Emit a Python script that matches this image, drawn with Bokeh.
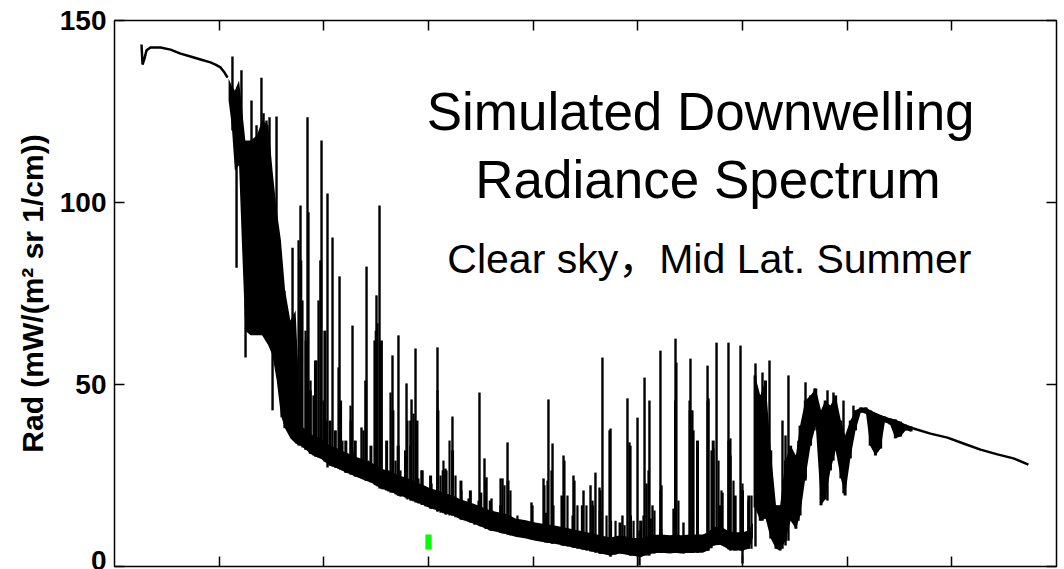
from bokeh.plotting import figure
from bokeh.models import Range1d, LinearAxis, FixedTicker, Label
from bokeh.embed import file_html
from bokeh.resources import INLINE

# Axis ticks
x_ticks = [600, 700, 800, 900, 1000, 1100, 1200, 1300]
y_ticks = [0, 50, 100, 150]

# Saturated band edge: smooth line (wavenumber, radiance)
flat_wn = [525.8, 526.8, 528.7, 530.6, 534.4, 543.9, 553.5, 563.1, 572.6, 582.2,
           591.7, 596.5, 601.3, 605.1, 608.0]
flat_rad = [143.4, 137.9, 139.6, 141.8, 142.6, 142.6, 142.0, 140.9, 140.1, 139.3,
            138.5, 137.9, 137.1, 135.7, 134.3]

# Dense line region: lower / upper envelope of the unresolved continuum
band_wn = [609, 612, 615, 619, 622, 625, 630, 636, 641, 647,
           651, 655, 659, 663, 668, 673, 678, 683, 687, 692,
           697, 701, 706, 711, 716, 721, 726, 730, 735, 740,
           745, 750, 755, 760, 766, 771, 778, 783, 789, 794,
           802, 809, 814, 823, 831, 840, 850, 859, 869, 876,
           883, 893, 902, 912, 919, 929, 938, 947, 957, 964,
           974, 983, 993, 1003, 1012, 1022, 1031, 1036, 1041, 1050,
           1057, 1062, 1067, 1072, 1079, 1087, 1093, 1100, 1106, 1110]
band_hi = [134.1, 132.1, 130.8, 133.5, 125.3, 117.0, 117.0, 118.4, 122.5, 121.2,
           108.8, 97.8, 89.6, 75.8, 67.6, 70.3, 38.7, 37.6, 36.5, 35.7,
           35.2, 34.3, 33.2, 32.7, 32.1, 31.3, 30.8, 30.2, 29.7, 29.1,
           28.6, 27.8, 26.9, 26.4, 25.8, 25.0, 24.5, 23.9, 23.1, 22.5,
           21.4, 20.9, 20.3, 19.5, 18.4, 17.6, 16.5, 15.4, 14.8, 14.3,
           13.2, 12.7, 12.1, 11.6, 11.3, 10.8, 10.2, 9.7, 9.1, 8.6,
           8.0, 8.6, 8.0, 7.7, 8.6, 8.8, 8.6, 8.8, 8.6, 8.8,
           8.8, 8.8, 9.4, 10.8, 11.0, 9.7, 9.4, 9.4, 9.9, 12.0]
band_lo = [128.0, 121.2, 108.8, 110.2, 86.8, 64.8, 63.5, 63.5, 63.5, 60.7,
           58.0, 51.1, 41.5, 37.9, 35.2, 33.8, 33.2, 32.1, 31.0, 30.2,
           29.7, 28.8, 27.7, 27.2, 26.6, 25.8, 25.3, 24.7, 24.2, 23.6,
           23.1, 22.3, 21.4, 20.9, 20.3, 19.5, 19.0, 18.4, 17.6, 17.0,
           15.9, 15.4, 14.8, 14.0, 12.9, 12.1, 11.0, 9.9, 9.3, 8.8,
           8.2, 7.7, 7.1, 6.6, 6.3, 5.8, 5.2, 4.7, 4.1, 3.6,
           3.0, 3.6, 3.0, 2.7, 3.6, 3.8, 3.6, 3.8, 3.6, 3.8,
           3.8, 3.8, 4.4, 5.8, 6.0, 4.7, 4.4, 4.4, 4.9, 8.0]

# Water-vapour band onset: oscillating envelope
wv_wn = [1112, 1117, 1122, 1127, 1132, 1136, 1141, 1146, 1151, 1155,
         1160, 1165, 1170, 1175, 1179, 1184, 1189, 1194, 1198, 1203,
         1208, 1213, 1218, 1222, 1227, 1232, 1236, 1241, 1246, 1251,
         1256, 1261]
wv_hi = [52.5, 47.0, 51.1, 31.9, 16.8, 16.8, 29.1, 33.2, 30.5, 38.7,
         45.6, 47.0, 48.9, 42.9, 45.6, 44.2, 47.0, 40.1, 36.0, 40.1,
         42.9, 43.7, 43.7, 42.9, 42.0, 41.5, 41.2, 40.7, 40.4, 39.8,
         39.0, 38.5]
wv_lo = [16.2, 12.6, 13.2, 7.7, 4.9, 4.4, 7.1, 12.6, 10.4, 14.0,
         24.2, 33.2, 38.7, 16.8, 18.4, 26.4, 31.9, 24.2, 19.5, 29.7,
         37.4, 42.3, 42.0, 33.2, 30.5, 32.4, 39.6, 39.0, 35.2, 35.7,
         37.4, 37.1]

# Strong emission lines: position, peak and foot
line_wn = [612.7, 616.6, 621.3, 625.2, 630.9, 635.7, 640.4, 642.4, 645.2, 648.1,
           651.0, 654.8, 670.1, 677.7, 684.4, 685.3, 697.8, 703.5, 708.3, 715.0,
           727.4, 736.0, 740.8, 750.3, 753.2, 765.6, 771.3, 779.0, 783.8, 787.6,
           808.6, 816.2, 822.9, 848.7, 853.5, 855.4, 860.2, 870.7, 875.5, 898.4,
           909.9, 914.6, 918.5, 929.0, 938.5, 948.1, 954.8, 959.5, 963.4, 966.2,
           973.9, 985.3, 990.1, 992.0, 999.7, 1001.6, 1006.4, 1008.3, 1011.1, 1014.0,
           1021.6, 1022.6, 1034.1, 1036.0, 1043.6, 1050.3, 1066.6, 1072.3, 1075.2, 1080.9,
           1086.6, 1088.5, 1098.1, 1100.0, 1105.7, 1112.4, 1119.1, 1125.8, 1138.2, 1141.1,
           1143.9, 1153.5, 1160.2, 1168.8, 1181.2, 1186.9, 1196.5, 1206.0]
line_top = [140.1, 111.5, 136.3, 73.1, 128.0, 121.2, 134.3, 124.5, 122.5, 123.4,
            73.1, 123.6, 87.6, 99.2, 123.4, 97.3, 117.0, 102.5, 90.4, 79.7,
            66.2, 38.2, 82.4, 74.5, 99.2, 58.0, 63.5, 50.3, 45.9, 59.9,
            60.2, 26.9, 41.2, 47.8, 29.7, 24.5, 18.7, 24.2, 34.1, 17.6,
            24.2, 45.9, 33.8, 30.5, 25.0, 20.9, 22.3, 25.8, 21.7, 57.4,
            37.9, 14.0, 46.2, 34.1, 40.9, 9.9, 51.9, 22.8, 45.6, 16.8,
            59.3, 22.3, 15.9, 62.6, 12.1, 57.1, 55.2, 32.4, 61.5, 20.3,
            61.5, 30.5, 60.7, 7.1, 18.1, 55.8, 53.3, 56.6, 40.1, 36.0,
            52.5, 34.6, 50.6, 48.9, 48.4, 47.8, 45.6, 44.2]
line_base = [119.8, 82.1, 111.5, 57.4, 100.6, 100.6, 106.0, 100.6, 100.6, 100.6,
             42.9, 86.8, 40.1, 34.6, 34.6, 34.6, 31.9, 27.2, 27.5, 26.9,
             25.3, 24.2, 23.6, 22.3, 21.4, 20.3, 19.5, 18.7, 18.1, 17.6,
             15.1, 14.3, 14.0, 11.3, 10.7, 10.4, 9.9, 9.1, 8.8, 7.4,
             6.9, 6.6, 6.3, 5.8, 5.2, 4.7, 4.1, 3.8, 3.6, 3.6,
             2.7, 3.6, 3.6, 3.6, 2.7, 0.3, 3.0, 3.0, 3.0, 3.6,
             3.8, 3.8, 3.8, 3.8, 3.6, 3.8, 4.4, 5.8, 6.3, 5.8,
             4.9, 4.4, 4.4, 0.8, 4.9, 5.5, 12.6, 12.6, 4.9, 5.8,
             7.1, 12.6, 23.6, 37.4, 18.1, 29.1, 20.1, 37.4]

# Line clusters rising out of the continuum
cluster_wn = [678, 683, 687, 692, 697, 701, 706, 711, 716, 721,
              726, 730, 740, 745, 750, 755, 760, 766, 771, 778,
              783, 789, 794, 802, 809, 814, 823, 831, 840, 850,
              859, 869, 876, 912, 919, 929, 938, 947, 957, 964,
              974, 983, 993, 1003, 1012, 1022, 1036, 1050, 1057, 1067,
              1072, 1079, 1087, 1093, 1100, 1106]
cluster_top = [84.1, 62.1, 48.4, 56.6, 84.1, 64.8, 40.1, 37.4, 45.6, 34.6,
               40.1, 34.6, 51.1, 33.2, 64.8, 62.1, 34.6, 42.9, 33.2, 31.9,
               40.1, 40.1, 26.4, 25.0, 42.9, 26.4, 31.9, 23.6, 20.9, 20.3,
               18.1, 16.8, 23.6, 14.8, 16.8, 19.5, 14.0, 16.8, 16.8, 15.4,
               12.6, 12.1, 14.0, 12.6, 13.2, 10.4, 45.6, 42.9, 34.6, 45.6,
               34.6, 16.8, 34.6, 19.5, 20.9, 19.5]
cluster_base = [33.2, 32.1, 31.0, 30.2, 29.7, 28.8, 27.7, 27.2, 26.6, 25.8,
                25.3, 24.7, 23.6, 23.1, 22.3, 21.4, 20.9, 20.3, 19.5, 19.0,
                18.4, 17.6, 17.0, 15.9, 15.4, 14.8, 14.0, 12.9, 12.1, 11.0,
                9.9, 9.3, 8.8, 6.6, 6.3, 5.8, 5.2, 4.7, 4.1, 3.6,
                3.0, 3.6, 3.0, 2.7, 3.6, 3.8, 3.8, 3.8, 3.8, 4.4,
                5.8, 6.0, 4.7, 4.4, 4.4, 4.9]

# Weak lines giving the continuum its ragged top
fine_wn = [675.8, 679.6, 682.5, 687.3, 690.1, 693.0, 694.9, 699.7, 702.5, 706.4,
           711.1, 714.0, 717.8, 720.7, 725.5, 729.3, 732.2, 737.9, 742.7, 748.4,
           751.3, 756.0, 761.8, 763.7, 768.5, 773.2, 779.9, 782.8, 785.7, 790.4,
           793.3, 797.1, 802.9, 808.6, 811.5, 814.3, 817.2, 820.1, 825.8, 831.5,
           838.2, 843.9, 847.8, 854.4, 861.1, 868.8, 872.6, 878.3, 885.0, 899.4,
           910.8, 913.7, 917.5, 927.1, 929.9, 932.8, 939.5, 942.3, 950.9, 956.7,
           964.3, 970.1, 972.9, 978.7, 987.3, 993.0, 995.9, 1002.5, 1005.4, 1010.2,
           1015.9, 1021.6, 1036.9, 1038.8, 1049.4, 1052.2, 1053.2, 1067.5, 1070.4, 1077.1,
           1079.9, 1088.5, 1091.4, 1100.0, 1108.6, 659.6, 662.4]
fine_top = [89.6, 73.1, 64.8, 51.1, 47.0, 56.6, 73.1, 45.6, 40.1, 33.2,
            30.5, 54.7, 34.6, 29.1, 44.2, 31.9, 27.7, 37.4, 29.1, 62.1,
            66.8, 26.4, 26.4, 47.8, 29.1, 26.4, 40.1, 33.2, 42.0, 24.2,
            26.4, 20.9, 22.8, 48.4, 25.0, 29.1, 26.4, 34.6, 25.0, 20.9,
            18.7, 16.8, 18.1, 23.6, 15.4, 24.2, 22.3, 20.9, 14.0, 16.8,
            22.3, 23.6, 26.4, 19.5, 29.1, 19.5, 23.6, 16.8, 16.8, 18.1,
            20.9, 14.0, 37.4, 12.6, 11.3, 33.2, 12.6, 12.6, 14.0, 26.4,
            15.4, 20.9, 56.0, 18.1, 45.6, 42.9, 37.4, 46.2, 31.9, 29.1,
            20.9, 35.2, 23.6, 22.8, 19.5, 67.6, 75.8]
fine_base = [33.2, 32.7, 32.1, 31.0, 30.5, 30.2, 29.9, 29.4, 28.6, 27.7,
             27.2, 26.9, 26.4, 25.8, 25.3, 25.0, 24.7, 23.9, 23.4, 22.5,
             22.0, 21.2, 20.6, 20.3, 19.8, 19.2, 18.4, 18.1, 17.9, 17.3,
             17.0, 16.5, 15.9, 15.1, 14.8, 14.6, 14.3, 14.0, 13.5, 12.9,
             12.4, 11.5, 11.3, 10.4, 9.9, 9.3, 9.1, 8.5, 8.2, 7.4,
             6.9, 6.6, 6.3, 5.8, 5.8, 5.5, 5.2, 4.9, 4.4, 4.1,
             3.6, 3.3, 3.0, 3.3, 3.6, 3.0, 3.0, 2.7, 3.0, 3.0,
             3.6, 3.8, 3.8, 3.8, 3.8, 3.8, 3.8, 4.4, 5.0, 6.0,
             6.0, 4.4, 4.4, 4.4, 4.9, 41.0, 38.0]

# Saturated water-vapour tail
tail_wn = [1212.7, 1219.4, 1236.6, 1241.4, 1255.7, 1263.4, 1279.6, 1295.8, 1311.1,
           1327.4, 1343.6, 1358.9, 1373.2]
tail_rad = [43.1, 42.9, 40.7, 40.1, 38.5, 37.9, 36.5, 35.4, 33.8, 32.1, 30.8, 29.7, 28.0]

# Small marker near the window region
marker_wn = [800]
marker_lo = [4.7]
marker_hi = [8.8]

p = figure(width=1064, height=569, output_backend="svg", toolbar_location=None,
           x_range=Range1d(500, 1400), y_range=Range1d(0, 150),
           x_axis_type=None, y_axis_type=None,
           min_border_left=114, min_border_right=8, min_border_top=20,
           min_border_bottom=3)
p.background_fill_color = "white"
p.border_fill_color = "white"
p.outline_line_color = "black"
p.outline_line_width = 1.5


def style_axis(ax, labels):
    ax.major_tick_in = 10
    ax.major_tick_out = 0
    ax.minor_tick_in = 0
    ax.minor_tick_out = 0
    ax.major_tick_line_width = 1.5
    ax.major_tick_line_color = "black"
    ax.axis_line_color = None
    if labels:
        ax.major_label_text_font = "Liberation Sans"
        ax.major_label_text_font_style = "bold"
        ax.major_label_text_font_size = "28px"
        ax.major_label_text_color = "black"
        ax.major_label_standoff = 8
    else:
        ax.major_label_overrides = {t: "" for t in ax.ticker.ticks}
        ax.major_label_text_font_size = "1px"
        ax.major_label_standoff = 0


left = LinearAxis(ticker=FixedTicker(ticks=y_ticks),
                  axis_label="Rad (mW/(m\u00b2 sr 1/cm))")
style_axis(left, True)
left.axis_label_text_font = "Liberation Sans"
left.axis_label_text_font_style = "bold"
left.axis_label_text_font_size = "30px"
left.axis_label_text_color = "black"
left.axis_label_standoff = 8
p.add_layout(left, "left")

right = LinearAxis(ticker=FixedTicker(ticks=y_ticks))
style_axis(right, False)
p.add_layout(right, "right")

bottom = LinearAxis(ticker=FixedTicker(ticks=x_ticks))
style_axis(bottom, False)
p.add_layout(bottom, "below")

top = LinearAxis(ticker=FixedTicker(ticks=x_ticks))
style_axis(top, False)
p.add_layout(top, "above")

# Spectrum
p.varea(x=band_wn, y1=band_lo, y2=band_hi, fill_color="black")
p.varea(x=wv_wn, y1=wv_lo, y2=wv_hi, fill_color="black")
p.segment(x0=wv_wn, y0=wv_lo, x1=wv_wn, y1=wv_hi, line_color="black", line_width=3)
p.segment(x0=fine_wn, y0=fine_base, x1=fine_wn, y1=fine_top,
          line_color="black", line_width=2.2)
p.segment(x0=cluster_wn, y0=cluster_base, x1=cluster_wn, y1=cluster_top,
          line_color="black", line_width=3)
p.segment(x0=line_wn, y0=line_base, x1=line_wn, y1=line_top,
          line_color="black", line_width=2.4)
p.line(flat_wn, flat_rad, line_color="black", line_width=2.5)
p.line(tail_wn, tail_rad, line_color="black", line_width=2.5)
p.vbar(x=marker_wn, bottom=marker_lo, top=marker_hi, width=6,
       fill_color="#00ff00", line_color=None)

# Annotation
p.add_layout(Label(x=1060, y=125.0, text="Simulated Downwelling",
                   text_align="center", text_baseline="alphabetic",
                   text_font="Liberation Sans", text_font_size="53px",
                   text_color="black"))
p.add_layout(Label(x=1067, y=106.3, text="Radiance Spectrum",
                   text_align="center", text_baseline="alphabetic",
                   text_font="Liberation Sans", text_font_size="53px",
                   text_color="black"))
p.add_layout(Label(x=818, y=84.6, text="Clear sky\uff0cMid Lat. Summer",
                   text_align="left", text_baseline="alphabetic",
                   text_font="Liberation Sans, Noto Sans CJK SC", text_font_size="41px",
                   text_color="black"))

open("out.html", "w").write(file_html(p, INLINE))
